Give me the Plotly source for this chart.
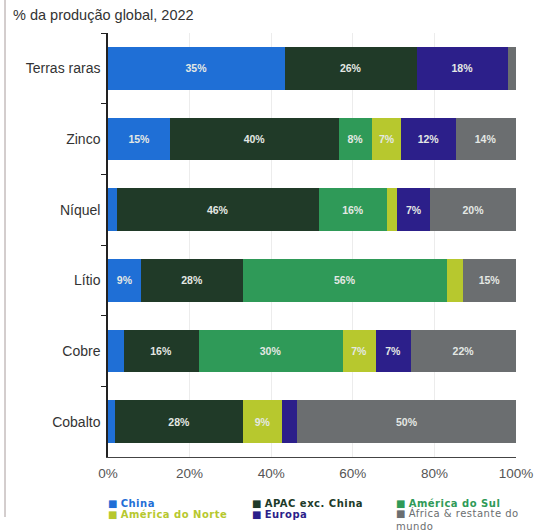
import plotly.graph_objects as go

categories = ["Terras raras", "Zinco", "Níquel", "Lítio", "Cobre", "Cobalto"]

series_names = ["China", "APAC exc. China", "América do Sul",
                "América do Norte", "Europa", "África & restante do<br>mundo"]
series_colors = ["#1f6fd6", "#203a28", "#2f9a58", "#b7c82e", "#2c1f8a", "#6b6e70"]
legend_text_colors = ["#1f6fd6", "#203a28", "#2f9a58", "#b7c82e", "#2c1f8a", "#6b6e70"]
legend_bold = [True, True, True, True, True, False]
legend_rows = ["legend", "legend", "legend", "legend2", "legend2", "legend2"]

china = [43.3, 15.3, 2.1, 8.2, 3.8, 1.8]
apac = [32.4, 41.2, 49.6, 24.8, 18.4, 31.3]
am_sul = [0, 8.3, 16.7, 50.1, 35.3, 0]
am_norte = [0, 7.1, 2.5, 3.9, 8.1, 9.6]
europa = [22.3, 13.3, 8.1, 0, 8.6, 3.7]
africa = [2.0, 14.7, 21.1, 13.0, 25.8, 53.7]

china_lbl = ["35%", "15%", "", "9%", "", ""]
apac_lbl = ["26%", "40%", "46%", "28%", "16%", "28%"]
am_sul_lbl = ["", "8%", "16%", "56%", "30%", ""]
am_norte_lbl = ["", "7%", "", "", "7%", "9%"]
europa_lbl = ["18%", "12%", "7%", "", "7%", ""]
africa_lbl = ["", "14%", "20%", "15%", "22%", "50%"]

x_ticks = [0, 20, 40, 60, 80, 100]
x_tick_labels = ["0%", "20%", "40%", "60%", "80%", "100%"]

values = [china, apac, am_sul, am_norte, europa, africa]
labels = [china_lbl, apac_lbl, am_sul_lbl, am_norte_lbl, europa_lbl, africa_lbl]

FONT = "Arial, Liberation Sans, sans-serif"
LEG_FONT = "DejaVu Sans, Verdana, sans-serif"

fig = go.Figure()
for name, col, vals, lbl in zip(series_names, series_colors, values, labels):
    fig.add_trace(go.Bar(
        y=categories, x=vals, orientation="h", name=name,
        marker=dict(color=col, line=dict(width=0)),
        text=lbl, textposition="inside", insidetextanchor="middle",
        textangle=0, textfont=dict(family=FONT, size=10.5, color="#e4e8e4"),
        texttemplate="<b>%{text}</b>", showlegend=False, hoverinfo="skip",
    ))

# legend-only entries (square glyph coloured like the series, text coloured too)
for i, (name, col, tcol, bold, leg) in enumerate(zip(series_names, series_colors,
                                                       legend_text_colors, legend_bold,
                                                       legend_rows)):
    label = f"<b>{name}</b>" if bold else name
    fig.add_trace(go.Scatter(
        x=[None], y=[None], mode="markers", legend=leg,
        name=(f'<span style="color:{col}">■</span> '
              f'<span style="color:{tcol};letter-spacing:0.5px">{label}</span>'),
        marker=dict(symbol="square", size=1, color="rgba(0,0,0,0)"), showlegend=True,
        legendwidth=135 if i == 5 else None,
    ))

legend_common = dict(orientation="h", xanchor="left", yanchor="top",
                     traceorder="normal", entrywidth=99, entrywidthmode="pixels",
                     tracegroupgap=0, itemwidth=30,
                     font=dict(family=LEG_FONT, size=10, color="#555"),
                     bgcolor="rgba(0,0,0,0)")

fig.update_layout(
    width=539, height=532,
    margin=dict(l=108, r=23, t=33, b=75, autoexpand=False),
    barmode="stack", bargap=0.4,
    paper_bgcolor="white", plot_bgcolor="white",
    font=dict(family=FONT, size=12, color="#333"),
    uniformtext=dict(minsize=10.5, mode="show"),
    title=dict(text="% da produção global, 2022", x=13/539, xanchor="left",
               xref="container", y=1-15/532, yref="container", yanchor="middle",
               font=dict(family=FONT, size=14.5, color="#333")),
    legend=dict(x=(68-108)/408, y=(457-488.5)/424, **legend_common),
    legend2=dict(x=(68-108)/408, y=(457-500)/424, **legend_common),
    xaxis=dict(range=[0, 100], tickvals=x_ticks, ticktext=x_tick_labels,
               showgrid=True, gridcolor="#ececec", gridwidth=1,
               zeroline=False, showline=True, linecolor="#444", linewidth=1.3,
               ticks="", ticklabelstandoff=4,
               tickfont=dict(family=FONT, size=13.5, color="#555")),
    yaxis=dict(categoryorder="array", categoryarray=categories, autorange="reversed",
               showline=True, linecolor="#222", linewidth=1.5,
               ticks="outside", tickson="boundaries", ticklen=5, tickcolor="#222",
               ticklabelstandoff=3,
               tickfont=dict(family=FONT, size=14, color="#333"), showgrid=False),
    shapes=[dict(type="line", xref="paper", yref="paper",
                 x0=(5-108)/408, x1=(5-108)/408, y0=(457-517)/424, y1=457/424,
                 line=dict(color="#a89c9c", width=1))],
)

fig.write_html("out.html")
